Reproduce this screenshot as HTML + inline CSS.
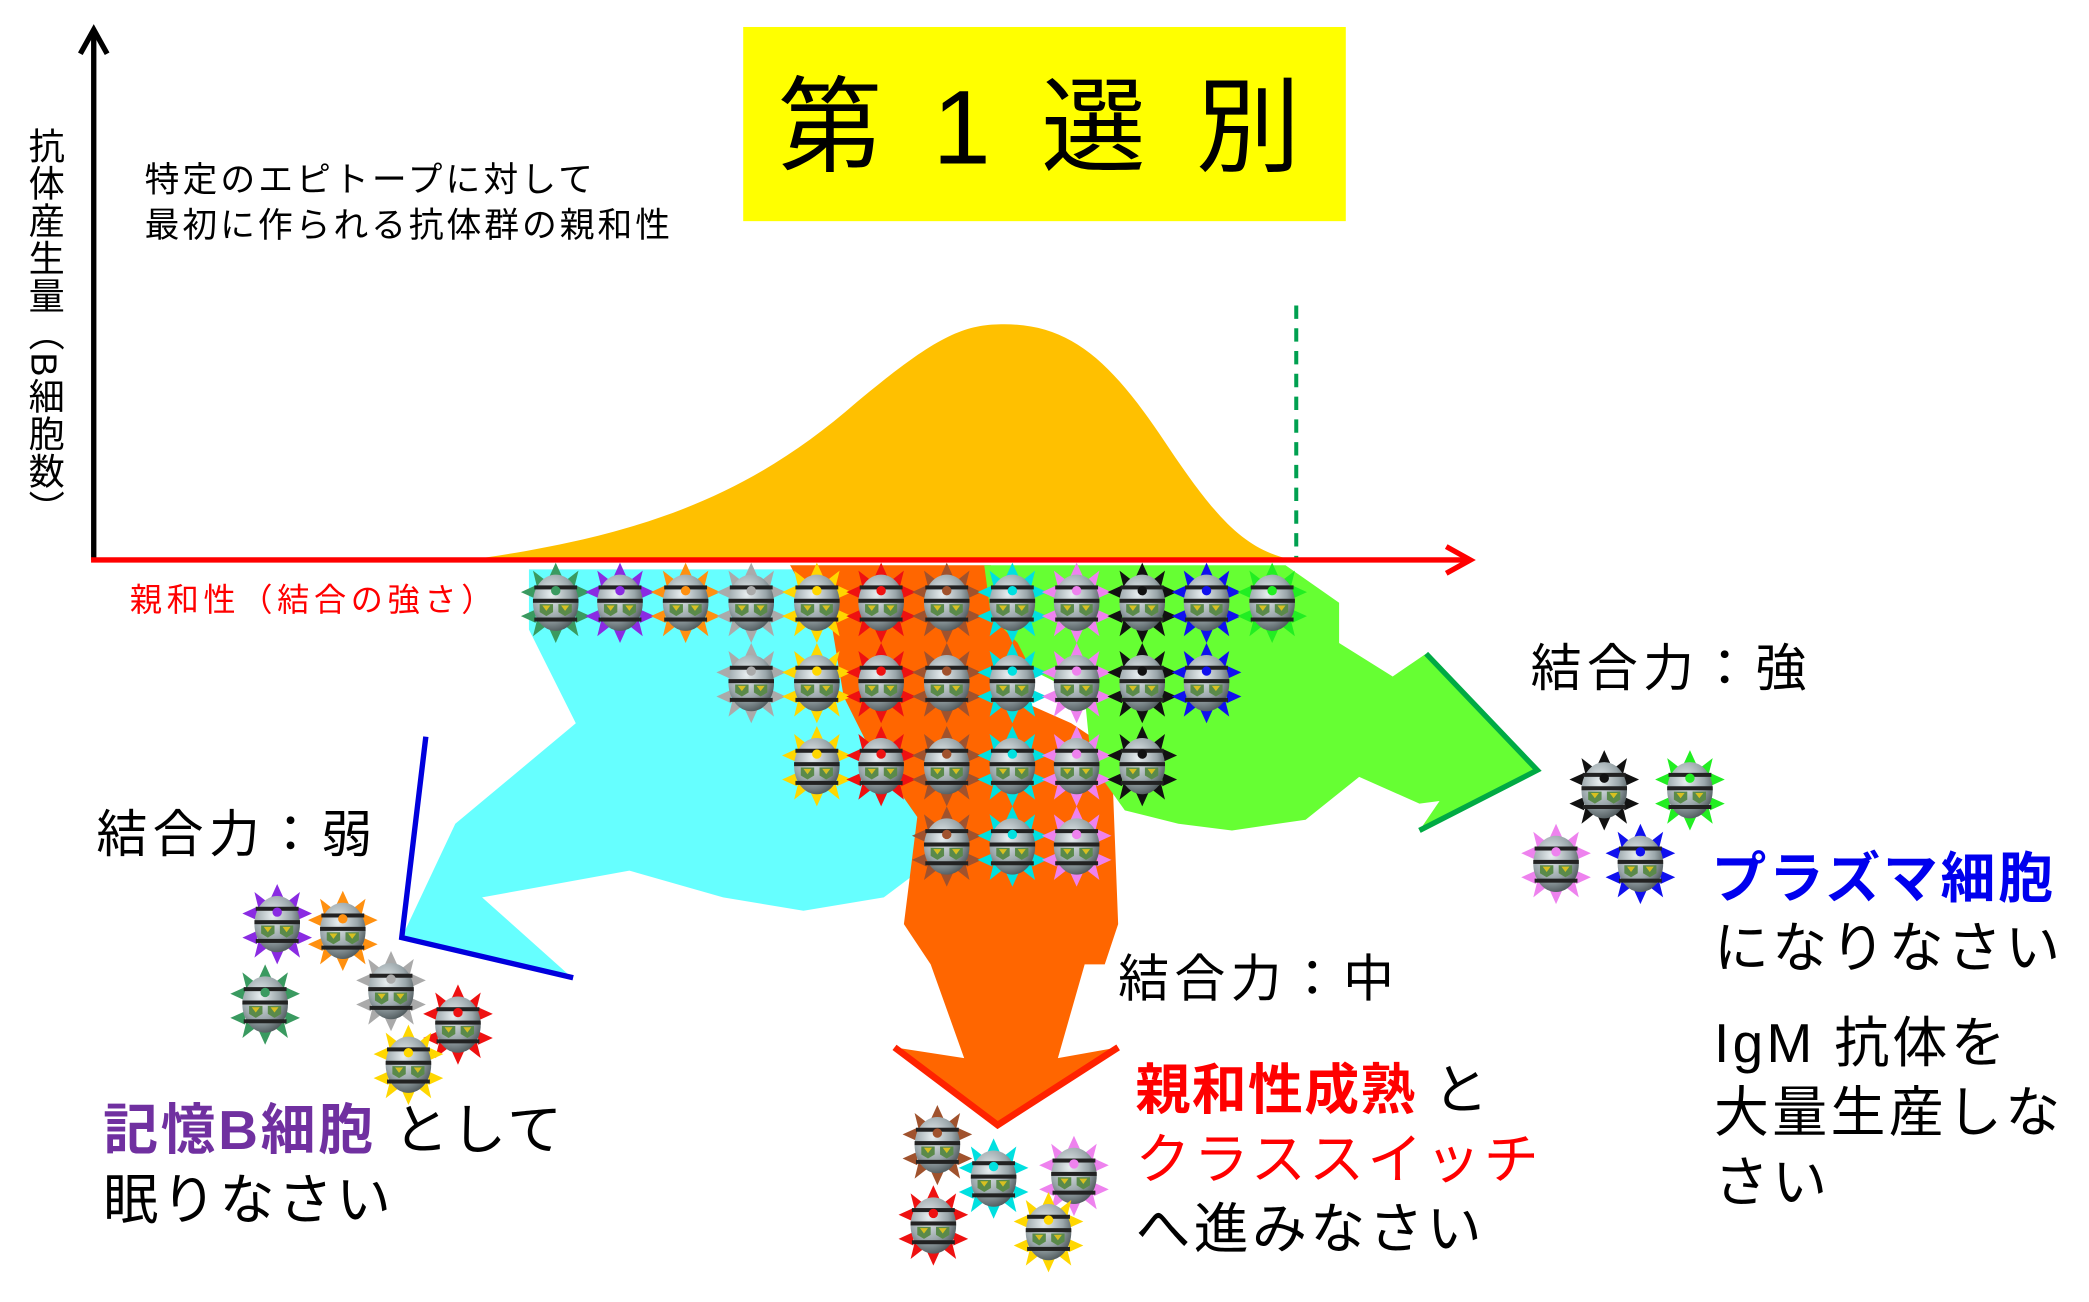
<!DOCTYPE html>
<html><head><meta charset="utf-8"><style>
html,body{margin:0;padding:0;background:#fff;}
svg{display:block;}
text{font-family:"Liberation Sans","Noto Sans CJK JP",sans-serif;}
</style></head><body>
<svg width="2089" height="1302" viewBox="0 0 1560 972" xmlns="http://www.w3.org/2000/svg">
<defs>
<radialGradient id="bg" cx="0.4" cy="0.35" r="0.7">
<stop offset="0" stop-color="#e8eef0"/><stop offset="0.6" stop-color="#9aa6aa"/><stop offset="1" stop-color="#4a5457"/>
</radialGradient>
<g id="body">
<ellipse cx="0" cy="0" rx="17" ry="21" fill="url(#bg)"/>
<rect x="-16" y="-13" width="32" height="3" fill="#222"/>
<rect x="-17" y="-3" width="34" height="3" fill="#222"/>
<rect x="-16" y="11" width="32" height="3" fill="#222"/>
<path d="M-12 1 L-2 1 L-2 7 L-7 10 L-12 7Z M2 1 L12 1 L12 7 L7 10 L2 7Z" fill="#5a8a4a"/>
<path d="M-10 2 L-4 2 L-7 6Z M4 2 L10 2 L7 6Z" fill="#d8c020"/>
</g>
<g id="spk">
<polygon points="0,-30 -5,-19 5,-19"/><polygon points="0,30 -5,19 5,19"/>
<polygon points="-26,-8 -15,-13 -15,-3"/><polygon points="26,-8 15,-13 15,-3"/>
<polygon points="-26,10 -15,5 -15,15"/><polygon points="26,10 15,5 15,15"/>
<polygon points="-17,-24 -8,-17 -14,-12"/><polygon points="17,-24 8,-17 14,-12"/>
<polygon points="-17,25 -8,18 -14,13"/><polygon points="17,25 8,18 14,13"/>
</g>
</defs>

<path d="M395 425 L740 425 L735 560 L690 610 L680 655 L660 670 L600 680 L540 670 L470 650 L360 670 L425 728 L300 700 L340 615 L430 540 L410 500 L395 470 Z" fill="#66ffff"/>
<path d="M590 422 L740 422 L770 470 L772 500 L755 520 L800 540 L830 560 L835 690 L825 720 L810 720 L790 790 L835 782 L745 840 L668 782 L720 790 L695 720 L675 690 L685 610 L650 560 L630 520 L620 460 L600 440 Z" fill="#ff6600"/>
<path d="M735 422 L960 422 L1000 450 L1000 480 L1040 505 L1065 488 L1148 575 L1060 620 L1075 598 L1060 600 L1015 580 L975 612 L920 620 L880 615 L840 605 L815 570 L810 520 L770 500 L760 480 L740 460 Z" fill="#66ff33"/>
<polyline points="318,550 300,700 428,730" fill="none" stroke="#0000dd" stroke-width="4"/>
<polyline points="668,782 745,840 835,782" fill="none" stroke="#ff2200" stroke-width="5"/>
<polyline points="1065,488 1148,575 1060,620" fill="none" stroke="#00aa44" stroke-width="4"/>

<path d="M350 418 C 480 400 560 370 640 300 C 700 250 720 242 750 242 C 800 242 830 270 870 330 C 910 390 930 410 965 418 Z" fill="#ffc000"/>
<line x1="968" y1="228" x2="968" y2="418" stroke="#00a050" stroke-width="3" stroke-dasharray="10,7"/>

<line x1="70" y1="418" x2="70" y2="26" stroke="#000" stroke-width="4"/>
<polyline points="60,40 70,22 80,40" fill="none" stroke="#000" stroke-width="4"/>
<line x1="68" y1="418" x2="1094" y2="418" stroke="#ff0000" stroke-width="4"/>
<polyline points="1080,408 1098,418 1080,428" fill="none" stroke="#ff0000" stroke-width="4"/>

<rect x="555" y="20" width="450" height="145" fill="#ffff00"/>
<text x="780" y="122" font-size="78" text-anchor="middle" fill="#000" letter-spacing="8">第 1 選 別</text>

<text x="108" y="143" font-size="26" letter-spacing="2.3">特定のエピトープに対して</text>
<text x="108" y="177" font-size="26" letter-spacing="2.2">最初に作られる抗体群の親和性</text>
<text x="33" y="95" font-size="27" style="writing-mode:vertical-rl;glyph-orientation-vertical:0" letter-spacing="1">抗体産生量（B細胞数）</text>
<text x="97" y="456" font-size="24" fill="#ff0000" letter-spacing="3.5">親和性（結合の強さ）</text>

<g>
<use href="#spk" x="415" y="450" fill="#3a9a60"/><use href="#body" x="415" y="450"/><circle cx="415" cy="441" r="3.5" fill="#3a9a60"/>
<use href="#spk" x="463" y="450" fill="#8a2be2"/><use href="#body" x="463" y="450"/><circle cx="463" cy="441" r="3.5" fill="#8a2be2"/>
<use href="#spk" x="512" y="450" fill="#ff9010"/><use href="#body" x="512" y="450"/><circle cx="512" cy="441" r="3.5" fill="#ff9010"/>
<use href="#spk" x="561" y="450" fill="#aaaaaa"/><use href="#body" x="561" y="450"/><circle cx="561" cy="441" r="3.5" fill="#aaaaaa"/>
<use href="#spk" x="610" y="450" fill="#ffd700"/><use href="#body" x="610" y="450"/><circle cx="610" cy="441" r="3.5" fill="#ffd700"/>
<use href="#spk" x="658" y="450" fill="#ee1111"/><use href="#body" x="658" y="450"/><circle cx="658" cy="441" r="3.5" fill="#ee1111"/>
<use href="#spk" x="707" y="450" fill="#a0522d"/><use href="#body" x="707" y="450"/><circle cx="707" cy="441" r="3.5" fill="#a0522d"/>
<use href="#spk" x="756" y="450" fill="#00e0e0"/><use href="#body" x="756" y="450"/><circle cx="756" cy="441" r="3.5" fill="#00e0e0"/>
<use href="#spk" x="804" y="450" fill="#ee82ee"/><use href="#body" x="804" y="450"/><circle cx="804" cy="441" r="3.5" fill="#ee82ee"/>
<use href="#spk" x="853" y="450" fill="#111111"/><use href="#body" x="853" y="450"/><circle cx="853" cy="441" r="3.5" fill="#111111"/>
<use href="#spk" x="901" y="450" fill="#1010ee"/><use href="#body" x="901" y="450"/><circle cx="901" cy="441" r="3.5" fill="#1010ee"/>
<use href="#spk" x="950" y="450" fill="#22ee22"/><use href="#body" x="950" y="450"/><circle cx="950" cy="441" r="3.5" fill="#22ee22"/>

<use href="#spk" x="561" y="510" fill="#aaaaaa"/><use href="#body" x="561" y="510"/><circle cx="561" cy="501" r="3.5" fill="#aaaaaa"/>
<use href="#spk" x="610" y="510" fill="#ffd700"/><use href="#body" x="610" y="510"/><circle cx="610" cy="501" r="3.5" fill="#ffd700"/>
<use href="#spk" x="658" y="510" fill="#ee1111"/><use href="#body" x="658" y="510"/><circle cx="658" cy="501" r="3.5" fill="#ee1111"/>
<use href="#spk" x="707" y="510" fill="#a0522d"/><use href="#body" x="707" y="510"/><circle cx="707" cy="501" r="3.5" fill="#a0522d"/>
<use href="#spk" x="756" y="510" fill="#00e0e0"/><use href="#body" x="756" y="510"/><circle cx="756" cy="501" r="3.5" fill="#00e0e0"/>
<use href="#spk" x="804" y="510" fill="#ee82ee"/><use href="#body" x="804" y="510"/><circle cx="804" cy="501" r="3.5" fill="#ee82ee"/>
<use href="#spk" x="853" y="510" fill="#111111"/><use href="#body" x="853" y="510"/><circle cx="853" cy="501" r="3.5" fill="#111111"/>
<use href="#spk" x="901" y="510" fill="#1010ee"/><use href="#body" x="901" y="510"/><circle cx="901" cy="501" r="3.5" fill="#1010ee"/>

<use href="#spk" x="610" y="572" fill="#ffd700"/><use href="#body" x="610" y="572"/><circle cx="610" cy="563" r="3.5" fill="#ffd700"/>
<use href="#spk" x="658" y="572" fill="#ee1111"/><use href="#body" x="658" y="572"/><circle cx="658" cy="563" r="3.5" fill="#ee1111"/>
<use href="#spk" x="707" y="572" fill="#a0522d"/><use href="#body" x="707" y="572"/><circle cx="707" cy="563" r="3.5" fill="#a0522d"/>
<use href="#spk" x="756" y="572" fill="#00e0e0"/><use href="#body" x="756" y="572"/><circle cx="756" cy="563" r="3.5" fill="#00e0e0"/>
<use href="#spk" x="804" y="572" fill="#ee82ee"/><use href="#body" x="804" y="572"/><circle cx="804" cy="563" r="3.5" fill="#ee82ee"/>
<use href="#spk" x="853" y="572" fill="#111111"/><use href="#body" x="853" y="572"/><circle cx="853" cy="563" r="3.5" fill="#111111"/>

<use href="#spk" x="707" y="632" fill="#a0522d"/><use href="#body" x="707" y="632"/><circle cx="707" cy="623" r="3.5" fill="#a0522d"/>
<use href="#spk" x="756" y="632" fill="#00e0e0"/><use href="#body" x="756" y="632"/><circle cx="756" cy="623" r="3.5" fill="#00e0e0"/>
<use href="#spk" x="804" y="632" fill="#ee82ee"/><use href="#body" x="804" y="632"/><circle cx="804" cy="623" r="3.5" fill="#ee82ee"/>

<use href="#spk" x="207" y="690" fill="#8a2be2"/><use href="#body" x="207" y="690"/><circle cx="207" cy="681" r="3.5" fill="#8a2be2"/>
<use href="#spk" x="256" y="695" fill="#ff9010"/><use href="#body" x="256" y="695"/><circle cx="256" cy="686" r="3.5" fill="#ff9010"/>
<use href="#spk" x="198" y="750" fill="#3a9a60"/><use href="#body" x="198" y="750"/><circle cx="198" cy="741" r="3.5" fill="#3a9a60"/>
<use href="#spk" x="292" y="740" fill="#aaaaaa"/><use href="#body" x="292" y="740"/><circle cx="292" cy="731" r="3.5" fill="#aaaaaa"/>
<use href="#spk" x="342" y="765" fill="#ee1111"/><use href="#body" x="342" y="765"/><circle cx="342" cy="756" r="3.5" fill="#ee1111"/>
<use href="#spk" x="305" y="795" fill="#ffd700"/><use href="#body" x="305" y="795"/><circle cx="305" cy="786" r="3.5" fill="#ffd700"/>

<use href="#spk" x="700" y="855" fill="#a0522d"/><use href="#body" x="700" y="855"/><circle cx="700" cy="846" r="3.5" fill="#a0522d"/>
<use href="#spk" x="742" y="880" fill="#00e0e0"/><use href="#body" x="742" y="880"/><circle cx="742" cy="871" r="3.5" fill="#00e0e0"/>
<use href="#spk" x="802" y="878" fill="#ee82ee"/><use href="#body" x="802" y="878"/><circle cx="802" cy="869" r="3.5" fill="#ee82ee"/>
<use href="#spk" x="697" y="915" fill="#ee1111"/><use href="#body" x="697" y="915"/><circle cx="697" cy="906" r="3.5" fill="#ee1111"/>
<use href="#spk" x="783" y="920" fill="#ffd700"/><use href="#body" x="783" y="920"/><circle cx="783" cy="911" r="3.5" fill="#ffd700"/>

<use href="#spk" x="1198" y="590" fill="#111111"/><use href="#body" x="1198" y="590"/><circle cx="1198" cy="581" r="3.5" fill="#111111"/>
<use href="#spk" x="1262" y="590" fill="#22ee22"/><use href="#body" x="1262" y="590"/><circle cx="1262" cy="581" r="3.5" fill="#22ee22"/>
<use href="#spk" x="1162" y="645" fill="#ee82ee"/><use href="#body" x="1162" y="645"/><circle cx="1162" cy="636" r="3.5" fill="#ee82ee"/>
<use href="#spk" x="1225" y="645" fill="#1010ee"/><use href="#body" x="1225" y="645"/><circle cx="1225" cy="636" r="3.5" fill="#1010ee"/>
</g>

<text x="1143" y="512" font-size="38" letter-spacing="4">結合力：強</text>
<text x="72" y="636" font-size="38" letter-spacing="4">結合力：弱</text>
<text x="835" y="744" font-size="38" letter-spacing="4">結合力：中</text>

<text x="1278" y="670" font-size="41" font-weight="bold" fill="#0000ee" letter-spacing="2">プラズマ細胞</text>
<text x="1280" y="722" font-size="41" letter-spacing="2.5">になりなさい</text>
<text x="1280" y="793" font-size="41" letter-spacing="2.5">IgM 抗体を</text>
<text x="1280" y="845" font-size="41" letter-spacing="2.5">大量生産しな</text>
<text x="1280" y="897" font-size="41" letter-spacing="2.5">さい</text>

<text x="77" y="858" font-size="41" letter-spacing="2"><tspan font-weight="bold" fill="#7030a0">記憶B細胞</tspan> として</text>
<text x="77" y="910" font-size="41" letter-spacing="2.5">眠りなさい</text>

<text x="848" y="828" font-size="41" letter-spacing="1"><tspan font-weight="bold" fill="#ff0000">親和性成熟</tspan> と</text>
<text x="848" y="880" font-size="41" fill="#ff0000" letter-spacing="2.5">クラススイッチ</text>
<text x="848" y="932" font-size="41" letter-spacing="2.5">へ進みなさい</text>
</svg>
</body></html>
